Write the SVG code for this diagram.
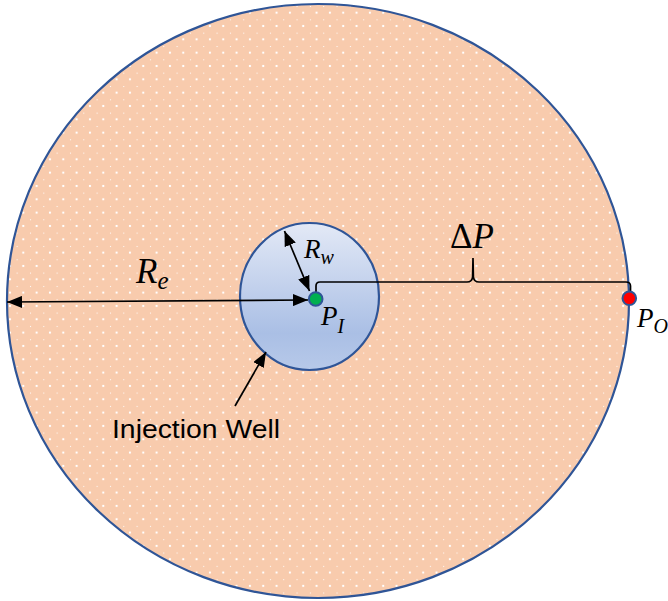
<svg xmlns="http://www.w3.org/2000/svg" width="668" height="601" viewBox="0 0 668 601">
<style>
.ln{fill:none;stroke:#000;stroke-width:1.7}
.math{font-family:"Liberation Serif","DejaVu Serif",serif;font-style:italic;fill:#000}
.lbl{font-family:"Liberation Sans",Arial,sans-serif;fill:#000}
.edge{stroke:#2f5597;stroke-width:2.2}
</style>
<defs>
<pattern id="dots" patternUnits="userSpaceOnUse" x="3.3" y="6" width="13.33" height="13.33">
<rect x="-1" y="-1" width="2" height="2" fill="#fff"/>
<rect x="5.67" y="5.67" width="2" height="2" fill="#fff"/>
</pattern>
<linearGradient id="wellGrad" x1="0" y1="0" x2="0" y2="1">
<stop offset="0" stop-color="#e3e9f6"/>
<stop offset="0.75" stop-color="#aabfe5"/>
<stop offset="1" stop-color="#b7c9e9"/>
</linearGradient>
<marker id="ah" viewBox="0 0 15 12" refX="15" refY="6" markerWidth="15" markerHeight="12" markerUnits="userSpaceOnUse" orient="auto-start-reverse">
<path d="M0,0 L15,6 L0,12 Z" fill="#000"/>
</marker>
</defs>

<g id="reservoir">
<ellipse cx="318" cy="301" rx="311" ry="297" fill="#f8cbad"/>
<ellipse cx="318" cy="301" rx="311" ry="297" fill="url(#dots)" class="edge"/>
</g>

<g id="injection-well">
<ellipse cx="309.5" cy="296.5" rx="69.5" ry="73.5" fill="url(#wellGrad)" class="edge"/>
</g>

<g id="connectors">
<path class="ln" d="M7,302 L308,300" marker-start="url(#ah)" marker-end="url(#ah)"/>
<path class="ln" d="M284.5,231 L309.5,291" marker-start="url(#ah)" marker-end="url(#ah)"/>
<path class="ln" d="M235,406 L266,352" marker-end="url(#ah)"/>
<path class="ln" d="M316,299 V286 Q316,282 320,282 H467 Q472,282 472.6,277 L473,258 L473.4,277 Q474,282 479,282 H626 Q630.5,282 630.5,286 V298"/>
</g>

<g id="well-point">
<circle cx="315.7" cy="299" r="6.8" fill="#00b050" stroke="#2f5597" stroke-width="2"/>
</g>
<g id="outer-point">
<circle cx="629.3" cy="298.3" r="6.8" fill="#ff0000" stroke="#2f5597" stroke-width="2"/>
</g>

<g id="labels">
<text class="math" x="136" y="283" font-size="35">R<tspan font-size="25" dy="6">e</tspan></text>
<text class="math" x="304" y="258" font-size="27">R<tspan font-size="20" dy="6">w</tspan></text>
<text class="math" x="321" y="325" font-size="27">P<tspan font-size="20" dy="8">I</tspan></text>
<text class="math" x="637" y="327" font-size="27">P<tspan font-size="20" dy="6">O</tspan></text>
<text class="math" x="450" y="248" font-size="35"><tspan font-style="normal">Δ</tspan>P</text>
<text class="lbl" x="112" y="438" font-size="25" textLength="168" lengthAdjust="spacingAndGlyphs">Injection Well</text>
</g>
</svg>
